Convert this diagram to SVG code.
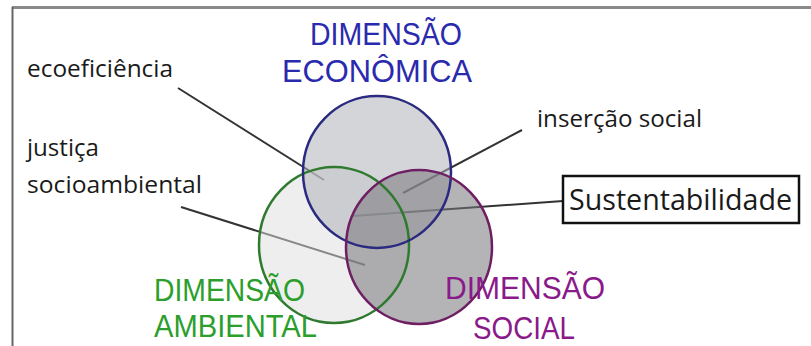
<svg xmlns="http://www.w3.org/2000/svg" width="811" height="346" viewBox="0 0 811 346">
<style>
text{font-family:"Open Sans","Liberation Sans",sans-serif}
.lbl{font-size:24px;fill:#1a1a1a}
.dim{font-size:32px;font-family:"Liberation Sans",Arial,sans-serif}
.eco{fill:#2a2aae}
.amb{fill:#2b9e2b}
.soc{fill:#8a1a8a}
.conn line{stroke:#333;stroke-width:2}
.ring{fill:none;stroke-width:2.5}
</style>
<rect width="811" height="346" fill="#fff"/>
<g id="frame">
<line x1="12" y1="7.5" x2="811" y2="7.5" stroke="#8a8a8a" stroke-width="3"/>
<line x1="12.5" y1="7" x2="12.5" y2="346" stroke="#666" stroke-width="2"/>
</g>
<g id="connectors" class="conn">
<line x1="178" y1="88" x2="324" y2="180"/>
<line x1="181" y1="207" x2="365" y2="265"/>
<line x1="522" y1="130" x2="403" y2="193"/>
<line x1="563" y1="201" x2="353" y2="216"/>
</g>
<g id="fills">
<ellipse cx="334" cy="245" rx="75" ry="78" fill="#dddddd" fill-opacity="0.5"/>
<ellipse cx="377" cy="172" rx="74" ry="76" fill="#b0b1b9" fill-opacity="0.54"/>
<ellipse cx="419" cy="247" rx="73" ry="77" fill="#77777c" fill-opacity="0.55"/>
</g>
<g id="ambiental">
<ellipse class="ring" cx="334" cy="245" rx="75" ry="78" stroke="#2f7a2f"/>
<text class="dim amb" x="154" y="301" textLength="151" lengthAdjust="spacingAndGlyphs">DIMENSÃO</text>
<text class="dim amb" x="154" y="337" textLength="163" lengthAdjust="spacingAndGlyphs">AMBIENTAL</text>
</g>
<g id="economica">
<ellipse class="ring" cx="377" cy="172" rx="74" ry="76" stroke="#2a2a80"/>
<text class="dim eco" x="310" y="45" textLength="152" lengthAdjust="spacingAndGlyphs">DIMENSÃO</text>
<text class="dim eco" x="282" y="82" textLength="190" lengthAdjust="spacingAndGlyphs">ECONÔMICA</text>
</g>
<g id="social">
<ellipse class="ring" cx="419" cy="247" rx="73" ry="77" stroke="#6e1e62"/>
<text class="dim soc" x="445" y="299" textLength="160" lengthAdjust="spacingAndGlyphs">DIMENSÃO</text>
<text class="dim soc" x="473" y="339" textLength="102" lengthAdjust="spacingAndGlyphs">SOCIAL</text>
</g>
<g id="ecoeficiencia">
<text class="lbl" x="27" y="77" textLength="146" lengthAdjust="spacingAndGlyphs">ecoeficiência</text>
</g>
<g id="justica">
<text class="lbl" x="27" y="156" textLength="72" lengthAdjust="spacingAndGlyphs">justiça</text>
<text class="lbl" x="27" y="193" textLength="175" lengthAdjust="spacingAndGlyphs">socioambiental</text>
</g>
<g id="insercao">
<text class="lbl" x="537" y="127" textLength="165" lengthAdjust="spacingAndGlyphs">inserção social</text>
</g>
<g id="sustentabilidade">
<rect x="563" y="176" width="236" height="47" fill="#fff" stroke="#111" stroke-width="2.5"/>
<text x="569" y="210" font-size="30" fill="#1a1a1a" textLength="223" lengthAdjust="spacingAndGlyphs">Sustentabilidade</text>
</g>
</svg>
